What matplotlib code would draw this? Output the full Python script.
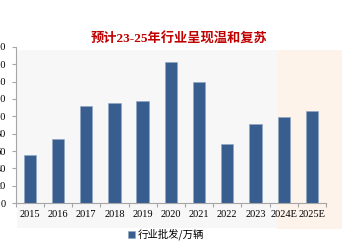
import matplotlib
matplotlib.use("Agg")
import matplotlib.pyplot as plt
from matplotlib.patches import Rectangle
import numpy as np

# 行业批发（万辆）
years = ["2015", "2016", "2017", "2018", "2019", "2020", "2021", "2022", "2023", "2024E", "2025E"]
wholesale = [55.6, 73.5, 111.8, 115.3, 118.0, 162.3, 139.8, 67.8, 91.6, 99.6, 106.5]
y_ticks = [0, 20, 40, 60, 80, 100, 120, 140, 160, 180]

title = "预计23-25年行业呈现温和复苏"
legend_label = "行业批发/万辆"

serif = ["Liberation Serif", "Noto Sans CJK SC"]
sans = ["Noto Sans CJK SC", "DejaVu Sans"]

fig = plt.figure(figsize=(3.45, 2.42), dpi=100)

# 背景色块：历史区间灰色，预测区间浅橙色
fig.patches.append(Rectangle((0.049, 0.058), 0.754, 0.735, transform=fig.transFigure,
                             facecolor="#f7f7f7", edgecolor="none", zorder=0))
fig.patches.append(Rectangle((0.803, 0.054), 0.188, 0.739, transform=fig.transFigure,
                             facecolor="#fdf3ea", edgecolor="none", zorder=0))

ax = fig.add_axes([0.0455, 0.16, 0.8995, 0.647])
ax.set_zorder(2)
ax.patch.set_visible(False)

x = np.arange(len(years))
ax.bar(x, wholesale, width=0.44, color="#375e8f", edgecolor="#8ea5c2", linewidth=0.4,
       label=legend_label, zorder=2)

ax.set_xlim(-0.5, len(years) - 0.5)
ax.set_ylim(0, 180)
ax.set_yticks(y_ticks)
ax.set_yticklabels([str(t) for t in y_ticks], fontfamily=serif, fontsize=7.5)
ax.set_xticks(x)
ax.set_xticklabels(years, fontfamily=serif, fontsize=7.5)
ax.set_xticks(np.arange(-0.5, len(years)), minor=True)
ax.tick_params(axis="x", which="major", length=0, pad=5)
ax.tick_params(axis="x", which="minor", length=3, color="#a6a6a6", width=0.8)
ax.tick_params(axis="y", length=3, color="#a6a6a6", width=0.8, pad=4)

for side in ("top", "right"):
    ax.spines[side].set_visible(False)
for side in ("left", "bottom"):
    ax.spines[side].set_color("#a6a6a6")
    ax.spines[side].set_linewidth(0.8)

fig.text(0.52, 0.84, title, ha="center", va="center", color="#c00000",
         fontsize=9.5, fontweight="bold", fontfamily=serif)

ax.legend(loc="center", bbox_to_anchor=(0.485, -0.2), frameon=False,
          prop={"family": sans, "size": 7.5}, handlelength=0.7, handleheight=0.7,
          handletextpad=0.3, borderpad=0)

fig.savefig("out.png", dpi=100)
